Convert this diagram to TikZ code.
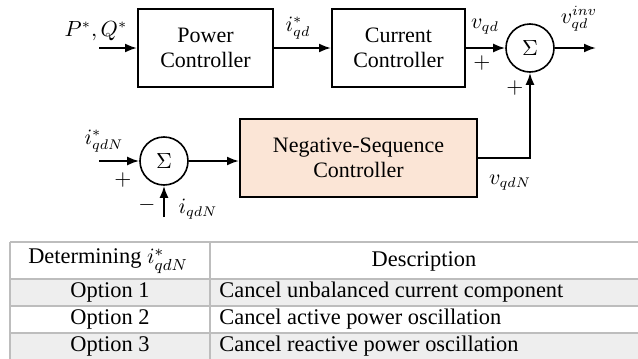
\documentclass[tikz,border=0pt]{standalone}
\usepackage{fontspec}
\setmainfont{Liberation Serif}
\usetikzlibrary{arrows.meta,positioning,calc}
\definecolor{nsfill}{HTML}{FBE5D6}
\definecolor{rowgray}{HTML}{EEEEEE}
\definecolor{rulegray}{HTML}{BDBDBD}
\tikzset{
  block/.style={draw, line width=1pt, minimum width=67.5pt, minimum height=39pt,
    align=center, font=\fontsize{11}{12.5}\selectfont},
  sumnode/.style={draw, circle, line width=0.8pt, minimum size=24pt, inner sep=0pt,
    font=\fontsize{10.5}{12}\selectfont},
  sig/.style={line width=1pt, -{Latex[length=6pt,width=4.5pt]}},
  lbl/.style={font=\fontsize{10.5}{12}\selectfont, inner sep=0pt},
  tbl/.style={font=\fontsize{11.2}{13}\selectfont, inner sep=0pt}
}
\begin{document}
\begin{tikzpicture}[x=0.5pt,y=-0.5pt]
\useasboundingbox (0,0) rectangle (638,359);
% top loop
\node[block] (pc) at (205.5,48) {Power\\Controller};
\node[block, minimum width=66.5pt] (cc) at (398.5,48) {Current\\Controller};
\node[sumnode] (s1) at (530,48) {$\Sigma$};
\coordinate (pqin) at (99,48);
\coordinate (vout) at (596,48);
\draw[sig] (pqin) -- (pc);
\draw[sig] (pc) -- (cc);
\draw[sig] (cc) -- (s1);
\draw[sig] (s1) -- (vout);
\node[lbl] (pq) at (96,31) {$P^*,Q^*$};
\node[lbl] (iqd) at (298,28) {$i^*_{qd}$};
\node[lbl] (vqd) at (485,27) {$v_{qd}$};
\node[lbl] (vinv) at (579,19) {$v^{inv}_{qd}$};
\node[lbl] (plusa) at (482,63) {$+$};
\node[lbl] (plusb) at (515,88) {$+$};
% negative-sequence path
\node[block, fill=nsfill, minimum width=118.5pt] (nsc) at (358.5,158) {Negative-Sequence\\Controller};
\node[sumnode] (s2) at (164,161) {$\Sigma$};
\coordinate (iin) at (99,161);
\coordinate (ifb) at (164,217);
\draw[sig] (iin) -- (s2);
\draw[sig] (s2) -- (nsc.west |- s2);
\draw[sig] (nsc.east) -- (s1 |- nsc.east) -- (s1);
\draw[sig] (ifb) -- (s2);
\node[lbl] (iref) at (104,141) {$i^*_{qdN}$};
\node[lbl] (plusc) at (123,180) {$+$};
\node[lbl] (minus) at (147,205) {$-$};
\node[lbl] (ifbl) at (198,209) {$i_{qdN}$};
\node[lbl] (vneg) at (510,183) {$v_{qdN}$};
% table
\fill[rowgray] (10,279) rectangle (638,306);
\fill[rowgray] (10,333) rectangle (638,359);
\foreach \y in {242,279,306,333}
  \draw[rulegray, line width=0.6pt] (10,\y) -- (638,\y);
\draw[rulegray, line width=0.6pt] (10,242) -- (10,359);
\draw[rulegray, line width=0.6pt] (210,242) -- (210,359);
\node[tbl] (h1) at (108,261) {Determining $i^*_{qdN}$};
\node[tbl] (h2) at (424,261) {Description};
\foreach \y/\n/\desc in {292.5/1/Cancel unbalanced current component,
    319.5/2/Cancel active power oscillation,
    346/3/Cancel reactive power oscillation}{
  \node[tbl] (opt\n) at (110,\y) {Option \n};
  \node[tbl, anchor=west] (desc\n) at (219,\y) {\desc};
}
\end{tikzpicture}
\end{document}
